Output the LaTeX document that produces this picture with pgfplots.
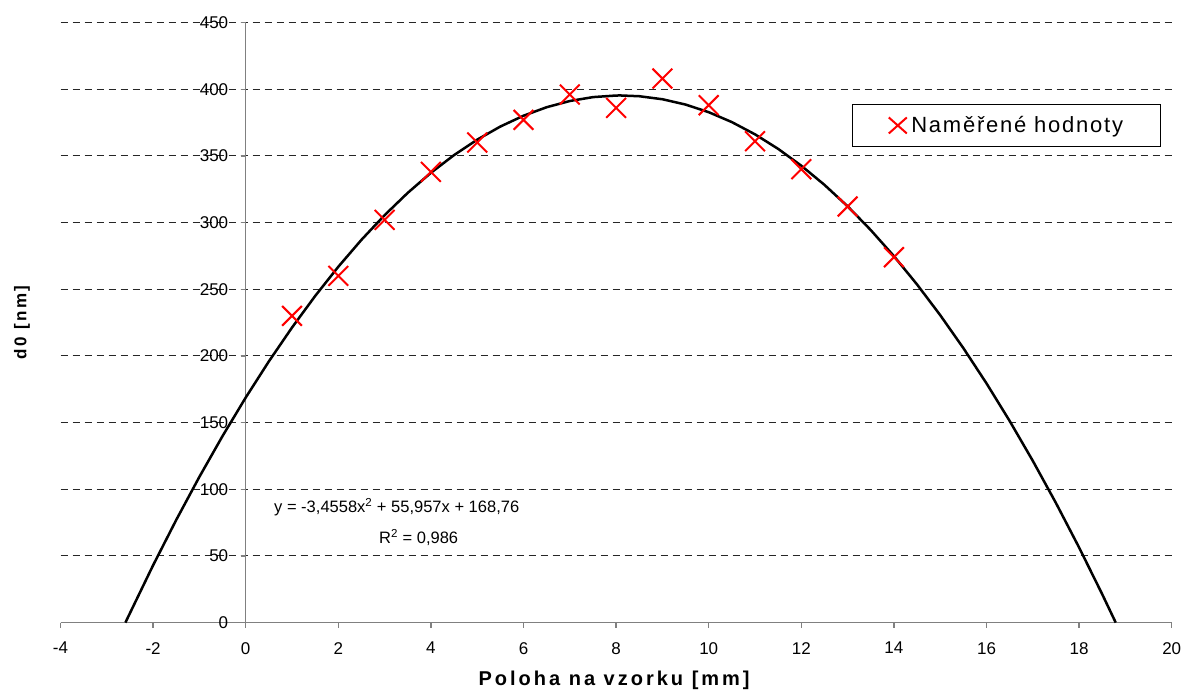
\documentclass[border=0pt]{standalone}
\usepackage{fontspec}
\setmainfont{Liberation Sans}
\newfontfamily\spacedlabel[LetterSpace=15]{Liberation Sans}
\newfontfamily\spacedlegend[LetterSpace=8]{Liberation Sans}
\usepackage{pgfplots}
\pgfplotsset{compat=1.18}
\usetikzlibrary{calc}

% measured film thickness along the sample
\pgfplotstableread{
x   d0
1   230
2   260
3   302
4   338
5   360
6   377
7   396
8   386
9   408
10  388
11  361
12  340
13  312
14  274
}\measured

% quadratic trendline y = -3.4558x^2 + 55.957x + 168.76, tabulated
\pgfplotstableread{
x       y
-2.599  0
-2.0    43.023
-1.5    77.049
-1.0    109.347
-0.5    139.918
0.0     168.760
0.5     195.875
1.0     221.261
1.5     244.920
2.0     266.851
2.5     287.054
3.0     305.529
3.5     322.276
4.0     337.295
4.5     350.587
5.0     362.150
5.5     371.986
6.0     380.093
6.5     386.473
7.0     391.125
7.5     394.049
8.0     395.245
8.096   395.280
8.5     394.713
9.0     392.453
9.5     388.466
10.0    382.750
10.5    375.307
11.0    366.135
11.5    355.236
12.0    342.609
12.5    328.254
13.0    312.171
13.5    294.360
14.0    274.821
14.5    253.555
15.0    230.560
15.5    205.838
16.0    179.387
16.5    151.209
17.0    121.303
17.5    89.669
18.0    56.307
18.5    21.217
18.791  0
}\trend

\begin{document}
\begin{tikzpicture}
\begin{axis}[
  name=ax,
  scale only axis,
  width=1111bp, height=600bp,
  xmin=-4, xmax=20, ymin=0, ymax=450,
  xtick={-4,-2,...,20},
  ytick={0,50,...,450},
  axis x line*=bottom,
  axis y line*=center,
  hide obscured x ticks=false,
  hide obscured y ticks=false,
  axis line style={draw=black!50, line width=1.3bp},
  tick style={draw=black!50, line width=1.3bp},
  tick align=outside,
  major tick length=5bp,
  ymajorgrids,
  major grid style={draw=black!85, line width=0.9bp, dash pattern=on 7bp off 5bp},
  /pgf/number format/assume math mode=true,
  ticklabel style={font=\fontsize{17bp}{20bp}\selectfont},
  xticklabel style={yshift=-11bp},
  yticklabel style={xshift=-9bp},
  legend style={at={(rel axis cs:0.990,0.864)}, anchor=north east,
    draw=black, line width=1bp, fill=white,
    inner xsep=35bp, inner ysep=10bp,
    font=\fontsize{22bp}{25bp}\selectfont\spacedlegend},
  legend image code/.code={
    \draw[red, line width=2bp] (0bp,-8bp) -- (18bp,8bp) (0bp,8bp) -- (18bp,-8bp);
    \path (20bp,0bp);
  },
  clip=false,
]
\addplot[black, line width=2.5bp, no markers, forget plot] table[x=x, y=y] {\trend};
\addplot[only marks, mark=x, mark size=14bp, mark options={draw=red, line width=2bp}]
  table[x=x, y=d0] {\measured};
\addlegendentry{Naměřené hodnoty}

\node[anchor=base west, font=\fontsize{16.5bp}{19bp}\selectfont, inner sep=0pt]
  at (axis cs:0.611,82.3) {y = -3,4558x\textsuperscript{2} + 55,957x + 168,76};
\node[anchor=base west, font=\fontsize{16.5bp}{19bp}\selectfont, inner sep=0pt]
  at (axis cs:2.879,59.1) {R\textsuperscript{2} = 0,986};
\end{axis}
% axis titles
\node[anchor=base, inner sep=0pt, font=\fontsize{20bp}{23bp}\selectfont\spacedlabel\bfseries]
  at ($(ax.south)+(-2bp,-63bp)$) {Poloha na vzorku [mm]};
\node[rotate=90, anchor=center, inner sep=0pt, font=\fontsize{17bp}{20bp}\selectfont\spacedlabel\bfseries]
  at ($(ax.west)+(-38.5bp,0bp)$) {d0 [nm]};
% page frame
\path ($(ax.south west)+(-60.5bp,-74.2bp)$) rectangle ($(ax.north east)+(14.3bp,22.5bp)$);
\end{tikzpicture}
\end{document}
